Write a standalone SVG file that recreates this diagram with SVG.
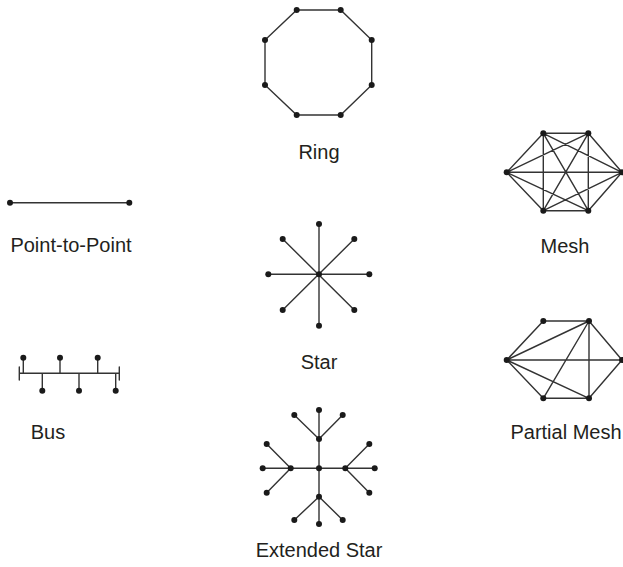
<svg xmlns="http://www.w3.org/2000/svg" width="623" height="567" viewBox="0 0 623 567">
<style>
.e{stroke:#333;stroke-width:1.4;fill:none;stroke-linecap:round}
.d{fill:#1a1a1a}
.t{font-family:"Liberation Sans",Arial,sans-serif;font-size:20px;fill:#231f20;text-anchor:middle}
</style>
<rect width="623" height="567" fill="#fff"/>
<g id="connectors">
  <!-- ring -->
  <polygon class="e" points="296.7,10 340.7,10 371.7,40 371.7,85 340.7,115 296.7,115 265,85 265,40"/>
  <!-- point to point -->
  <line class="e" x1="10" y1="202.7" x2="129.3" y2="202.7"/>
  <!-- bus -->
  <path class="e" d="M19.3,373.3H119.3M19.3,367V380M119.3,367V380M23.3,373.3V357.7M60,373.3V357.7M97.7,373.3V357.7M42.3,373.3V390.7M79,373.3V390.7M115.7,373.3V390.7"/>
  <!-- star -->
  <path class="e" d="M319,224V325.7M268.3,274.3H369.3M282.7,239L354.3,310M354.3,239L282.7,310"/>
  <!-- extended star -->
  <path class="e" d="M319,410V524M262.7,468.3H374.7M319,439L294.3,415M319,439L342.7,415M290.7,468.3L266.7,444M290.7,468.3L266.7,492.7M345.3,468.3L369.3,444M345.3,468.3L369.3,492.7M319,496.7L294.3,520M319,496.7L342.7,520"/>
  <!-- mesh -->
  <path class="e" d="M543.3,133.3L588.3,133.3M543.3,133.3L506.7,172.3M543.3,133.3L622,172.3M543.3,133.3L543.3,210.7M543.3,133.3L588.3,210.7M588.3,133.3L506.7,172.3M588.3,133.3L622,172.3M588.3,133.3L543.3,210.7M588.3,133.3L588.3,210.7M506.7,172.3L622,172.3M506.7,172.3L543.3,210.7M506.7,172.3L588.3,210.7M622,172.3L543.3,210.7M622,172.3L588.3,210.7M543.3,210.7L588.3,210.7"/>
  <!-- partial mesh -->
  <path class="e" d="M543.3,321L589,321M543.3,321L506.7,360M506.7,360L589,321M506.7,360L622,360M506.7,360L589,398.3M506.7,360L543.3,398.3M543.3,398.3L589,398.3M589,321L543.3,398.3M589,321L589,398.3M589,321L622,360M622,360L589,398.3"/>
</g>
<g id="ring" class="d">
  <circle cx="296.7" cy="10" r="3"/><circle cx="340.7" cy="10" r="3"/><circle cx="371.7" cy="40" r="3"/><circle cx="371.7" cy="85" r="3"/>
  <circle cx="340.7" cy="115" r="3"/><circle cx="296.7" cy="115" r="3"/><circle cx="265" cy="85" r="3"/><circle cx="265" cy="40" r="3"/>
  <text class="t" x="319" y="159">Ring</text>
</g>
<g id="point-to-point" class="d">
  <circle cx="10" cy="202.7" r="3"/><circle cx="129.3" cy="202.7" r="3"/>
  <text class="t" x="71" y="252">Point-to-Point</text>
</g>
<g id="bus" class="d">
  <circle cx="23.3" cy="357.7" r="3"/><circle cx="60" cy="357.7" r="3"/><circle cx="97.7" cy="357.7" r="3"/>
  <circle cx="42.3" cy="390.7" r="3"/><circle cx="79" cy="390.7" r="3"/><circle cx="115.7" cy="390.7" r="3"/>
  <text class="t" x="48" y="439">Bus</text>
</g>
<g id="star" class="d">
  <circle cx="319" cy="274.3" r="3"/>
  <circle cx="319" cy="224" r="3"/><circle cx="319" cy="325.7" r="3"/><circle cx="268.3" cy="274.3" r="3"/><circle cx="369.3" cy="274.3" r="3"/>
  <circle cx="282.7" cy="239" r="3"/><circle cx="354.3" cy="239" r="3"/><circle cx="282.7" cy="310" r="3"/><circle cx="354.3" cy="310" r="3"/>
  <text class="t" x="319" y="369">Star</text>
</g>
<g id="extended-star" class="d">
  <circle cx="319" cy="468.3" r="3"/>
  <circle cx="319" cy="439" r="3"/><circle cx="319" cy="410" r="3"/><circle cx="294.3" cy="415" r="3"/><circle cx="342.7" cy="415" r="3"/>
  <circle cx="290.7" cy="468.3" r="3"/><circle cx="262.7" cy="468.3" r="3"/><circle cx="266.7" cy="444" r="3"/><circle cx="266.7" cy="492.7" r="3"/>
  <circle cx="345.3" cy="468.3" r="3"/><circle cx="374.7" cy="468.3" r="3"/><circle cx="369.3" cy="444" r="3"/><circle cx="369.3" cy="492.7" r="3"/>
  <circle cx="319" cy="496.7" r="3"/><circle cx="294.3" cy="520" r="3"/><circle cx="319" cy="524" r="3"/><circle cx="342.7" cy="520" r="3"/>
  <text class="t" x="319" y="557">Extended Star</text>
</g>
<g id="mesh" class="d">
  <circle cx="543.3" cy="133.3" r="3"/><circle cx="588.3" cy="133.3" r="3"/><circle cx="506.7" cy="172.3" r="3"/><circle cx="622" cy="172.3" r="3"/>
  <circle cx="543.3" cy="210.7" r="3"/><circle cx="588.3" cy="210.7" r="3"/>
  <text class="t" x="565" y="253">Mesh</text>
</g>
<g id="partial-mesh" class="d">
  <circle cx="543.3" cy="321" r="3"/><circle cx="589" cy="321" r="3"/><circle cx="506.7" cy="360" r="3"/><circle cx="622" cy="360" r="3"/>
  <circle cx="543.3" cy="398.3" r="3"/><circle cx="589" cy="398.3" r="3"/>
  <text class="t" x="566" y="439">Partial Mesh</text>
</g>
</svg>
